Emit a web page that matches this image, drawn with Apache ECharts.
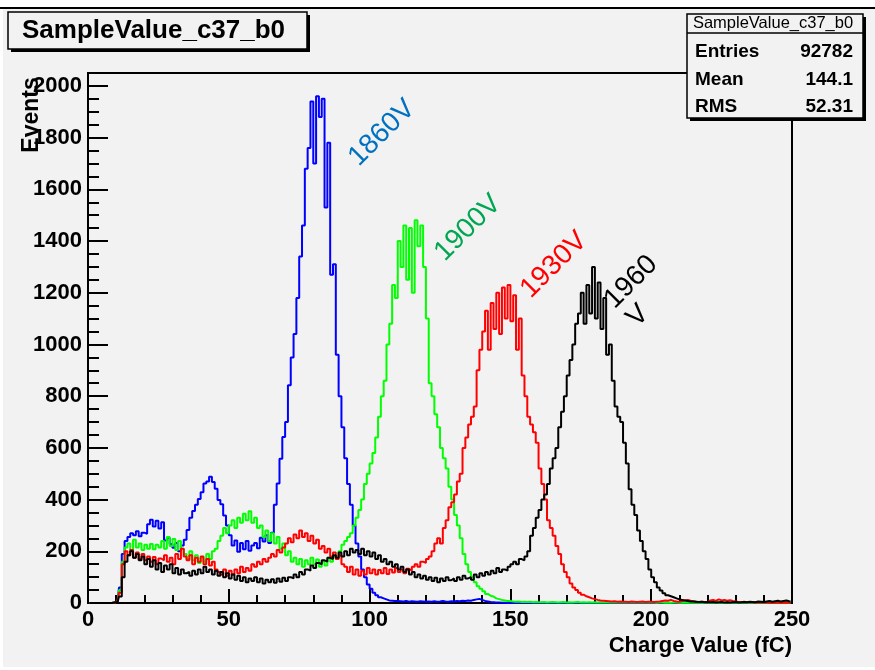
<!DOCTYPE html>
<html>
<head>
<meta charset="utf-8">
<script src="https://cdn.jsdelivr.net/npm/echarts@6/dist/echarts.min.js"></script>
<style>
html,body{margin:0;padding:0;background:#fff;}
#chart{width:875px;height:670px;}
</style>
</head>
<body>
<div id="chart"></div>
<script>
// Histogram bins: 1 fC wide, starting at 0 fC
const binWidth = 1;
const xTicks = [0, 50, 100, 150, 200, 250];
const yTicks = [0, 200, 400, 600, 800, 1000, 1200, 1400, 1600, 1800, 2000];
const seriesNames = ['1860V', '1900V', '1930V', '1960V'];

const v1860 = [
  0,0,0,0,0,0,0,0,0,3,
  8,60,190,240,255,270,262,278,258,272,
  268,305,322,296,318,288,312,242,252,228,
  214,232,200,222,245,282,330,356,380,402,
  428,462,470,488,468,442,398,382,338,300,
  262,222,242,198,232,208,240,202,222,232,
  212,252,238,262,232,272,380,462,558,642,
  700,842,950,1040,1180,1340,1460,1680,1760,1940,
  1700,1960,1880,1950,1530,1780,1270,1310,960,800,
  680,560,460,380,300,230,180,130,100,72,
  55,40,30,22,18,14,10,9,8,8,
  7,6,8,5,7,6,5,7,6,5,
  6,5,7,5,6,8,6,5,7,6,
  8,7,9,8,10,9,12,14,16,12,
  8,6,4,3,2,2,1,1,0,0,
  0,0,0,0,0,0,0,0,0,0,
  0,0,0,0,0,0,0,0,0,0,
  0,0,0,0,0,0,0,0,0,0,
  0,0,0,0,0,0,0,0,0,0,
  0,0,0,0,0,0,0,0,0,0,
  0,0,0,0,0,0,0,0,0,0,
  0,0,0,0,0,0,0,0,0,0,
  0,0,0,0,0,0,0,0,0,0,
  0,0,0,0,0,0,0,0,0,0,
  0,0,0,0,0,0,0,0,0,0
];

const v1900 = [
  0,0,0,0,0,0,0,0,0,2,
  6,50,160,215,230,205,245,215,230,205,
  225,210,228,208,225,215,240,210,255,220,
  248,205,240,210,190,170,200,165,185,155,
  175,160,190,170,200,210,240,260,290,270,
  300,320,290,330,310,345,320,355,310,330,
  290,300,255,280,240,270,230,255,210,230,
  185,200,160,175,150,170,140,165,150,175,
  150,168,140,160,145,175,160,180,170,200,
  225,240,255,270,300,330,360,400,460,500,
  540,580,640,720,800,860,1000,1080,1230,1180,
  1400,1300,1460,1250,1450,1200,1480,1380,1460,1300,
  1100,850,800,730,680,600,560,520,450,400,
  340,300,250,190,150,120,100,80,65,55,
  45,35,28,25,18,15,12,10,8,8,
  6,5,6,4,5,4,5,3,4,3,
  3,4,2,3,4,3,2,3,4,2,
  3,2,3,4,2,3,2,3,2,3,
  2,3,2,2,3,2,3,2,2,3,
  2,2,3,2,2,2,3,2,2,2,
  2,1,2,2,1,2,1,2,2,1,
  1,2,1,1,2,1,1,2,1,1,
  1,1,2,1,1,1,2,1,1,1,
  1,1,1,2,1,1,1,1,2,1,
  1,1,1,1,1,2,1,1,1,1
];

const v1930 = [
  0,0,0,0,0,0,0,0,0,2,
  5,40,150,200,185,205,175,195,170,190,
  165,180,160,178,150,172,165,185,160,175,
  150,190,170,210,180,165,185,150,175,160,
  180,150,170,145,160,130,120,110,130,105,
  125,110,130,115,140,120,135,125,150,140,
  160,150,170,160,175,190,180,205,195,215,
  230,250,235,265,250,280,255,270,240,260,
  230,245,210,220,195,210,180,195,170,185,
  150,140,120,140,110,130,105,125,110,135,
  115,130,110,128,115,135,112,130,118,135,
  120,130,115,132,125,140,150,140,160,155,
  170,180,200,230,250,230,290,320,370,390,
  420,470,500,600,640,690,720,760,900,980,
  1050,1130,980,1160,1060,1200,1040,1220,1100,1230,
  1090,1190,980,1100,880,800,720,690,660,620,
  520,460,400,320,290,260,220,190,150,120,
  100,75,60,50,40,32,26,22,18,15,
  12,10,9,8,7,6,7,5,6,5,
  5,4,6,5,4,5,6,4,5,5,
  4,5,6,8,10,9,12,8,6,5,
  8,10,12,9,7,5,4,5,4,3,
  10,12,8,14,10,12,9,11,8,6,
  4,3,5,3,4,3,2,3,2,2,
  2,1,2,1,2,1,1,2,1,1
];

const v1960 = [
  0,0,0,0,0,0,0,0,0,2,
  4,25,100,160,185,200,175,190,165,180,
  150,170,140,165,130,155,120,145,130,150,
  115,135,110,130,115,120,105,125,110,130,
  115,140,120,130,110,125,105,120,100,115,
  95,110,90,105,85,100,80,95,85,100,
  80,95,75,90,80,92,78,95,82,98,
  85,100,95,110,100,120,110,130,125,145,
  135,155,150,165,160,175,170,185,175,195,
  180,200,185,210,195,205,190,210,185,200,
  180,195,170,185,160,170,150,160,140,150,
  130,140,120,130,110,120,100,110,95,105,
  90,100,85,98,80,95,85,100,88,95,
  85,100,90,105,95,100,90,110,100,115,
  105,120,110,125,115,135,120,130,125,140,
  150,160,150,170,165,180,200,260,290,330,
  360,400,420,460,520,560,600,680,740,800,
  880,940,1000,1080,1120,1200,1080,1230,1120,1300,
  1100,1240,1060,1180,960,1000,860,760,720,700,
  620,540,440,380,340,280,240,200,170,130,
  100,80,60,48,38,30,26,22,18,14,
  12,10,8,6,6,5,4,5,3,4,
  3,4,2,3,4,2,3,2,3,4,
  2,3,4,3,5,4,3,6,5,4,
  6,8,5,7,9,6,8,10,7,6
];

const seriesValues = [v1860, v1900, v1930, v1960];
const seriesColors = ['#0000ff', '#00ff00', '#ff0000', '#000000'];
const binCenters = v1860.map((_, i) => (i + 0.5) * binWidth);

const FONT = '"Liberation Sans", Arial, Helvetica, sans-serif';
const chart = echarts.init(document.getElementById('chart'), null, {renderer: 'canvas'});

const series = seriesValues.map((vals, k) => ({
  name: seriesNames[k],
  type: 'line',
  step: 'middle',
  showSymbol: false,
  silent: true,
  animation: false,
  lineStyle: {color: seriesColors[k], width: 2},
  data: binCenters.map((x, i) => [x, vals[i]])
}));

function txt(text, x, y, opts) {
  return Object.assign({
    type: 'text', x: x, y: y, silent: true,
    style: Object.assign({text: text, fontFamily: FONT, fill: '#000'}, opts.style || {})
  }, opts.el || {});
}

chart.setOption({
  animation: false,
  backgroundColor: '#ffffff',
  grid: {left: 88, right: 83, top: 73, bottom: 67, show: true, borderColor: '#000', borderWidth: 2, backgroundColor: 'transparent'},
  xAxis: {
    type: 'value', min: xTicks[0], max: xTicks[xTicks.length - 1], interval: 50,
    axisLine: {show: true, lineStyle: {color: '#000', width: 2}},
    axisTick: {show: true, inside: true, length: 14, lineStyle: {color: '#000', width: 2}},
    minorTick: {show: true, splitNumber: 5, length: 8, lineStyle: {color: '#000', width: 2}},
    splitLine: {show: false},
    axisLabel: {color: '#000', fontFamily: FONT, fontSize: 22, fontWeight: 'bold', margin: 6,
      formatter: v => xTicks.indexOf(v) >= 0 ? String(v) : ''}
  },
  yAxis: {
    type: 'value', min: 0, max: 2050, interval: 200,
    axisLine: {show: true, lineStyle: {color: '#000', width: 2}},
    axisTick: {show: true, inside: true, length: 20, lineStyle: {color: '#000', width: 2}},
    minorTick: {show: true, splitNumber: 4, length: 11, lineStyle: {color: '#000', width: 2}},
    splitLine: {show: false},
    axisLabel: {color: '#000', fontFamily: FONT, fontSize: 22, fontWeight: 'bold', margin: 6,
      formatter: v => yTicks.indexOf(v) >= 0 ? String(v) : ''}
  },
  series: series,
  graphic: [
    // page background
    {type: 'rect', z: -10, silent: true, shape: {x: 3, y: 9, width: 872, height: 658}, style: {fill: '#f2f2f2'}},
    {type: 'rect', z: -9, silent: true, shape: {x: 0, y: 7, width: 875, height: 2}, style: {fill: '#000'}},
    // title box
    {type: 'rect', z: 50, silent: true, shape: {x: 11, y: 15, width: 299, height: 37}, style: {fill: '#000'}},
    {type: 'rect', z: 51, silent: true, shape: {x: 8, y: 12, width: 299, height: 37}, style: {fill: '#f2f2f2', stroke: '#000', lineWidth: 1.5}},
    txt('SampleValue_c37_b0', 22, 31, {el: {z: 52}, style: {fontSize: 26, fontWeight: 'bold', verticalAlign: 'middle', align: 'left'}}),
    // stats box
    {type: 'rect', z: 50, silent: true, shape: {x: 690, y: 17, width: 176, height: 104}, style: {fill: '#000'}},
    {type: 'rect', z: 51, silent: true, shape: {x: 687, y: 14, width: 176, height: 104}, style: {fill: '#f2f2f2', stroke: '#000', lineWidth: 1.5}},
    {type: 'line', z: 52, silent: true, shape: {x1: 687, y1: 33, x2: 863, y2: 33}, style: {stroke: '#000', lineWidth: 1.5}},
    txt('SampleValue_c37_b0', 773, 23.5, {el: {z: 53}, style: {fontSize: 16.5, align: 'center', verticalAlign: 'middle'}}),
    txt('Entries', 695, 52, {el: {z: 53}, style: {fontSize: 19, fontWeight: 'bold', align: 'left', verticalAlign: 'middle'}}),
    txt('92782', 853, 52, {el: {z: 53}, style: {fontSize: 19, fontWeight: 'bold', align: 'right', verticalAlign: 'middle'}}),
    txt('Mean', 695, 80, {el: {z: 53}, style: {fontSize: 19, fontWeight: 'bold', align: 'left', verticalAlign: 'middle'}}),
    txt('144.1', 853, 80, {el: {z: 53}, style: {fontSize: 19, fontWeight: 'bold', align: 'right', verticalAlign: 'middle'}}),
    txt('RMS', 695, 107, {el: {z: 53}, style: {fontSize: 19, fontWeight: 'bold', align: 'left', verticalAlign: 'middle'}}),
    txt('52.31', 853, 107, {el: {z: 53}, style: {fontSize: 19, fontWeight: 'bold', align: 'right', verticalAlign: 'middle'}}),
    // axis titles
    txt('Charge Value (fC)', 792, 646, {style: {fontSize: 22, fontWeight: 'bold', align: 'right', verticalAlign: 'middle'}}),
    txt('Events', 32, 115, {el: {rotation: Math.PI / 2}, style: {fontSize: 23, fontWeight: 'bold', align: 'center', verticalAlign: 'middle'}}),
    // voltage annotations
    txt('1860V', 382, 133, {el: {rotation: Math.PI / 4, z: 60}, style: {fontSize: 28, fill: '#0070c0', align: 'center', verticalAlign: 'middle'}}),
    txt('1900V', 468, 228, {el: {rotation: Math.PI / 4, z: 60}, style: {fontSize: 28, fill: '#00a651', align: 'center', verticalAlign: 'middle'}}),
    txt('1930V', 554, 265, {el: {rotation: Math.PI / 4, z: 60}, style: {fontSize: 28, fill: '#ff0000', align: 'center', verticalAlign: 'middle'}}),
    txt('1960', 631, 282, {el: {rotation: Math.PI / 4, z: 60}, style: {fontSize: 28, fill: '#000', align: 'center', verticalAlign: 'middle'}}),
    txt('V', 638, 316, {el: {rotation: Math.PI / 4, z: 60}, style: {fontSize: 28, fill: '#000', align: 'center', verticalAlign: 'middle'}})
  ]
});
</script>
</body>
</html>
